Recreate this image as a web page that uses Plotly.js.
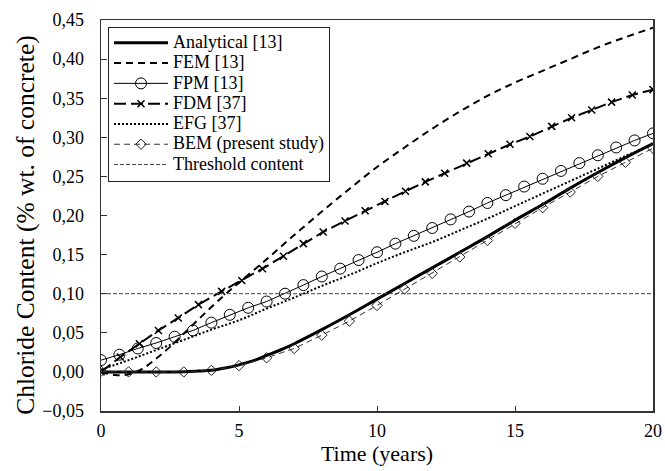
<!DOCTYPE html>
<html>
<head>
<meta charset="utf-8">
<script src="https://cdn.plot.ly/plotly-3.0.1.min.js"></script>
<style>html,body{margin:0;padding:0;background:#fff;}#chart{width:665px;height:471px;}</style>
</head>
<body>
<div id="chart"></div>
<script>
// ---- Data ----
const analyticalT = [0, 1, 2, 3, 3.5, 4, 4.5, 5, 5.5, 6, 6.5, 7, 8, 9, 10, 11, 12, 13, 14, 15, 16, 17, 18, 19, 20];
const analyticalV = [0, 0, 0, 0.0003, 0.001, 0.002, 0.005, 0.009, 0.014, 0.021, 0.028, 0.036, 0.054, 0.073, 0.093, 0.113, 0.133, 0.153, 0.173, 0.194, 0.214, 0.235, 0.255, 0.274, 0.292];

const femT = [0, 0.5, 1, 1.5, 2, 2.5, 3, 3.5, 4, 4.5, 5, 6, 7, 8, 9, 10, 11, 12, 13, 14, 15, 16, 17, 18, 19, 20];
const femV = [0, -0.004, -0.003, 0.004, 0.017, 0.032, 0.049, 0.066, 0.083, 0.099, 0.114, 0.144, 0.175, 0.205, 0.234, 0.262, 0.287, 0.311, 0.333, 0.353, 0.370, 0.385, 0.400, 0.415, 0.428, 0.440];

const fpmT = [0, 0.667, 1.333, 2, 2.667, 3.333, 4, 4.667, 5.333, 6, 6.667, 7.333, 8, 8.667, 9.333, 10, 10.667, 11.333, 12, 12.667, 13.333, 14, 14.667, 15.333, 16, 16.667, 17.333, 18, 18.667, 19.333, 20];
const fpmV = [0.015, 0.022, 0.030, 0.037, 0.045, 0.053, 0.063, 0.073, 0.082, 0.090, 0.100, 0.111, 0.122, 0.132, 0.143, 0.153, 0.164, 0.174, 0.184, 0.195, 0.205, 0.216, 0.226, 0.237, 0.247, 0.257, 0.267, 0.277, 0.287, 0.296, 0.305];

const fdmT = [0, 0.7, 1.39, 2.08, 2.8, 3.53, 4.37, 5.1, 5.85, 6.61, 7.33, 8.05, 8.84, 9.57, 10.29, 11.03, 11.75, 12.45, 13.25, 14.03, 14.82, 15.54, 16.33, 17.05, 17.78, 18.5, 19.25, 20];
const fdmV = [0.0, 0.019, 0.036, 0.053, 0.069, 0.086, 0.103, 0.117, 0.132, 0.148, 0.164, 0.179, 0.193, 0.206, 0.218, 0.231, 0.243, 0.254, 0.267, 0.279, 0.291, 0.301, 0.314, 0.325, 0.335, 0.345, 0.354, 0.361];

const efgT = [0, 1, 2, 3, 4, 5, 6, 7, 8, 9, 10, 11, 12, 13, 14, 15, 16, 17, 18, 19, 20];
const efgV = [0.003, 0.015, 0.028, 0.041, 0.054, 0.066, 0.081, 0.095, 0.110, 0.124, 0.139, 0.153, 0.166, 0.181, 0.196, 0.212, 0.228, 0.244, 0.260, 0.276, 0.291];

const bemT = [0, 1, 2, 3, 4, 5, 6, 7, 8, 9, 10, 11, 12, 13, 14, 15, 16, 17, 18, 19, 20];
const bemV = [0.001, 0.0, 0.0, 0.0, 0.002, 0.008, 0.018, 0.030, 0.047, 0.065, 0.085, 0.106, 0.126, 0.147, 0.168, 0.190, 0.210, 0.230, 0.250, 0.268, 0.286];

const thresholdT = [0, 20];
const thresholdV = [0.10, 0.10];

const seriesNames = ["Analytical [13]", "FEM [13]", "FPM [13]", "FDM [37]", "EFG [37]", "BEM (present study)", "Threshold content"];
const xTicks = [0, 5, 10, 15, 20];

// ---- Traces ----
const FONT = "Liberation Serif, Times New Roman, serif";
const nm = s => '<span style="font-size:18px">' + s + '</span>';
const traces = [
  {x: analyticalT, y: analyticalV, name: nm(seriesNames[0]), mode: "lines",
   line: {color: "#000", width: 3, shape: "spline"}},
  {x: femT, y: femV, name: nm(seriesNames[1]), mode: "lines",
   line: {color: "#000", width: 2, dash: "7px,5px", shape: "spline"}},
  {x: fpmT, y: fpmV, name: nm(seriesNames[2]), mode: "lines+markers",
   line: {color: "#000", width: 1},
   marker: {symbol: "circle-open", size: 11, color: "#000", line: {width: 1, color: "#000"}}},
  {x: fdmT, y: fdmV, name: nm(seriesNames[3]), mode: "lines+markers",
   line: {color: "#000", width: 2, dash: "12px,5px"},
   marker: {symbol: "x-thin-open", size: 7, color: "#000", line: {width: 1.5, color: "#000"}}},
  {x: efgT, y: efgV, name: nm(seriesNames[4]), mode: "lines",
   line: {color: "#000", width: 2, dash: "2px,2px", shape: "spline"}},
  {x: bemT, y: bemV, name: nm(seriesNames[5]), mode: "lines+markers",
   line: {color: "#333", width: 1, dash: "6px,4px"},
   marker: {symbol: "diamond-open", size: 8, color: "#222", line: {width: 1, color: "#222"}}},
  {x: thresholdT, y: thresholdV, name: nm(seriesNames[6]), mode: "lines",
   line: {color: "#444", width: 1, dash: "4px,2px"}}
];

const layout = {
  width: 665, height: 471,
  margin: {l: 101, r: 12, t: 20, b: 60},
  paper_bgcolor: "#fff", plot_bgcolor: "#fff",
  separators: ",.",
  font: {family: FONT, size: 18, color: "#000"},
  showlegend: true,
  legend: {
    x: 0.0127, y: 0.983, xanchor: "left", yanchor: "top",
    bgcolor: "#fff", bordercolor: "#222", borderwidth: 1,
    font: {family: FONT, size: 13.3, color: "#000"},
    itemwidth: 54, tracegroupgap: 0
  },
  xaxis: {
    range: [0, 20], tickvals: xTicks, ticktext: xTicks.map(String),
    ticks: "inside", ticklen: 5, tickwidth: 1, tickcolor: "#333",
    showline: true, linecolor: "#333", linewidth: 1.5, mirror: true,
    showgrid: false, zeroline: false,
    tickfont: {family: FONT, size: 18, color: "#000"},
    ticklabelstandoff: 3,
    title: {text: "Time (years)", font: {family: FONT, size: 22, color: "#000"}, standoff: 4}
  },
  yaxis: {
    range: [-0.05, 0.45], dtick: 0.05, tick0: 0, tickformat: ".2f",
    ticks: "inside", ticklen: 6, tickwidth: 1, tickcolor: "#333",
    showline: true, linecolor: "#333", linewidth: 1.5, mirror: true,
    showgrid: false, zeroline: false,
    tickfont: {family: FONT, size: 18, color: "#000"},
    ticklabelstandoff: 12,
    title: {text: "Chloride Content (% wt. of concrete)&nbsp;&nbsp;&nbsp;", font: {family: FONT, size: 25.5, color: "#000"}, standoff: 0}
  }
};

Plotly.newPlot("chart", traces, layout, {displayModeBar: false, staticPlot: true});
</script>
</body>
</html>
